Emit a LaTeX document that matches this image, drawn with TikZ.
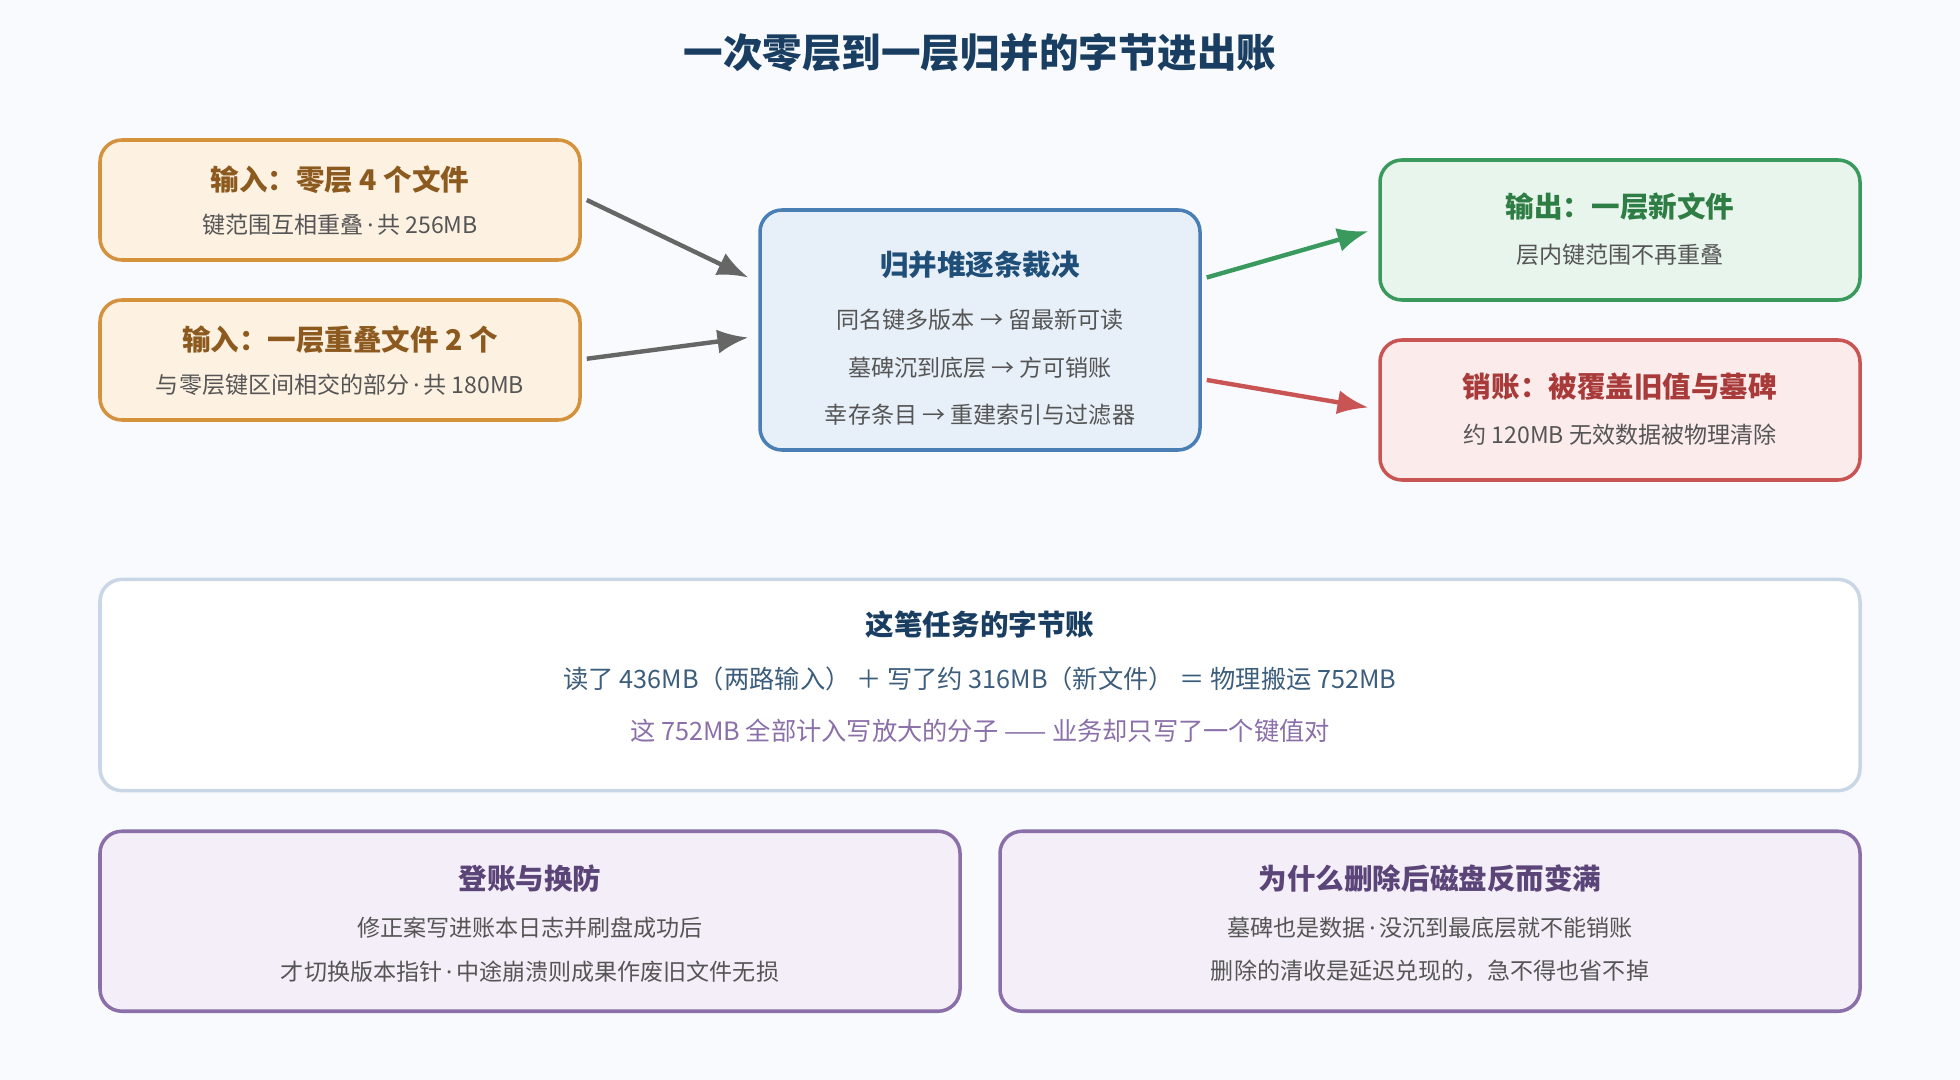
\documentclass[tikz,border=0pt]{standalone}
\usepackage{fontspec}
\setmainfont{Noto Sans CJK SC}
\newfontfamily\latinf{Noto Sans}
\usetikzlibrary{positioning, arrows.meta, calc}
\definecolor{bgc}{HTML}{F8FAFD}
\definecolor{orfill}{HTML}{FDF1E2}
\definecolor{ordraw}{HTML}{D4923C}
\definecolor{ortext}{HTML}{8C5A1E}
\definecolor{blfill}{HTML}{E7EFF8}
\definecolor{bldraw}{HTML}{4A7FB5}
\definecolor{bltext}{HTML}{1F4E79}
\definecolor{grfill}{HTML}{E8F5EC}
\definecolor{grdraw}{HTML}{3A9A5E}
\definecolor{grtext}{HTML}{2E7D45}
\definecolor{rdfill}{HTML}{FBEBEB}
\definecolor{rddraw}{HTML}{C95454}
\definecolor{rdtext}{HTML}{A83A3A}
\definecolor{pufill}{HTML}{F4EEF8}
\definecolor{pudraw}{HTML}{8A6FA8}
\definecolor{putext}{HTML}{5A4478}
\definecolor{sumdraw}{HTML}{C8D6E5}
\definecolor{body}{HTML}{555555}
\newcommand{\md}{{\latinf\,·\,}}
\begin{document}
\begin{tikzpicture}[x=0.02cm, y=-0.02cm,
    box/.style = {draw, rounded corners=10pt, line width=1.6pt, inner sep=0pt},
    head/.style = {font=\fontsize{13}{15}\selectfont\bfseries},
    line/.style = {font=\fontsize{10.5}{12}\selectfont, text=body},
    arr/.style = {-{Latex[length=14pt, width=11pt]}, line width=2pt}]
    \fill[bgc] (0,0) rectangle (1568,864);
    \node[font=\fontsize{18}{20}\selectfont\bfseries, text=bltext!80!black] (title) at (784,42) {一次零层到一层归并的字节进出账};

    \node[box, draw=ordraw, fill=orfill, minimum width=384*0.02cm, minimum height=96*0.02cm] (in0) at (272,160) {};
    \node[head, text=ortext] (in0h) at (272,144) {输入：零层 4 个文件};
    \node[line] (in0t) at (272,180) {键范围互相重叠\md 共 256MB};

    \node[box, draw=ordraw, fill=orfill, minimum width=384*0.02cm, minimum height=96*0.02cm] (in1) at (272,288) {};
    \node[head, text=ortext] (in1h) at (272,272) {输入：一层重叠文件 2 个};
    \node[line] (in1t) at (272,308) {与零层键区间相交的部分\md 共 180MB};

    \node[box, draw=bldraw, fill=blfill, minimum width=352*0.02cm, minimum height=192*0.02cm] (merge) at (784,264) {};
    \node[head, text=bltext] (mergeh) at (784,212) {归并堆逐条裁决};
    \node[line] (merge1) at (784,256) {同名键多版本 → 留最新可读};
    \node[line] (merge2) at (784,294) {墓碑沉到底层 → 方可销账};
    \node[line] (merge3) at (784,332) {幸存条目 → 重建索引与过滤器};

    \node[box, draw=grdraw, fill=grfill, minimum width=384*0.02cm, minimum height=112*0.02cm] (out) at (1296,184) {};
    \node[head, text=grtext] (outh) at (1296,165) {输出：一层新文件};
    \node[line] (outt) at (1296,204) {层内键范围不再重叠};

    \node[box, draw=rddraw, fill=rdfill, minimum width=384*0.02cm, minimum height=112*0.02cm] (del) at (1296,328) {};
    \node[head, text=rdtext] (delh) at (1296,309) {销账：被覆盖旧值与墓碑};
    \node[line] (delt) at (1296,348) {约 120MB 无效数据被物理清除};

    \draw[arr, draw=black!60] ([shift={(4,0)}]in0.east) -- ([shift={(-8,-42)}]merge.west);
    \draw[arr, draw=black!60] ([shift={(4,-1)}]in1.east) -- ([shift={(-8,6)}]merge.west);
    \draw[arr, draw=grdraw] ([shift={(4,-42)}]merge.east) -- ([shift={(-8,1)}]out.west);
    \draw[arr, draw=rddraw] ([shift={(4,40)}]merge.east) -- ([shift={(-8,-2)}]del.west);

    \node[box, draw=sumdraw, fill=white, minimum width=1408*0.02cm, minimum height=169*0.02cm] (sum) at (784,548) {};
    \node[head, text=bltext!80!black] (sumh) at (784,500) {这笔任务的字节账};
    \node[line, font=\fontsize{11.5}{13}\selectfont, text=bltext!70!gray] (sum1) at (784,543) {读了 436MB（两路输入） ＋ 写了约 316MB（新文件） ＝ 物理搬运 752MB};
    \node[line, font=\fontsize{11.5}{13}\selectfont, text=pudraw] (sum2) at (784,585) {这 752MB 全部计入写放大的分子 —— 业务却只写了一个键值对};

    \node[box, draw=pudraw, fill=pufill, minimum width=688*0.02cm, minimum height=144*0.02cm] (note1) at (424,737) {};
    \node[head, text=putext] (note1h) at (424,703) {登账与换防};
    \node[line] (note1a) at (424,742) {修正案写进账本日志并刷盘成功后};
    \node[line] (note1b) at (424,777) {才切换版本指针\md 中途崩溃则成果作废旧文件无损};

    \node[box, draw=pudraw, fill=pufill, minimum width=688*0.02cm, minimum height=144*0.02cm] (note2) at (1144,737) {};
    \node[head, text=putext] (note2h) at (1144,703) {为什么删除后磁盘反而变满};
    \node[line] (note2a) at (1144,742) {墓碑也是数据\md 没沉到最底层就不能销账};
    \node[line] (note2b) at (1144,777) {删除的清收是延迟兑现的，急不得也省不掉};
\end{tikzpicture}
\end{document}
